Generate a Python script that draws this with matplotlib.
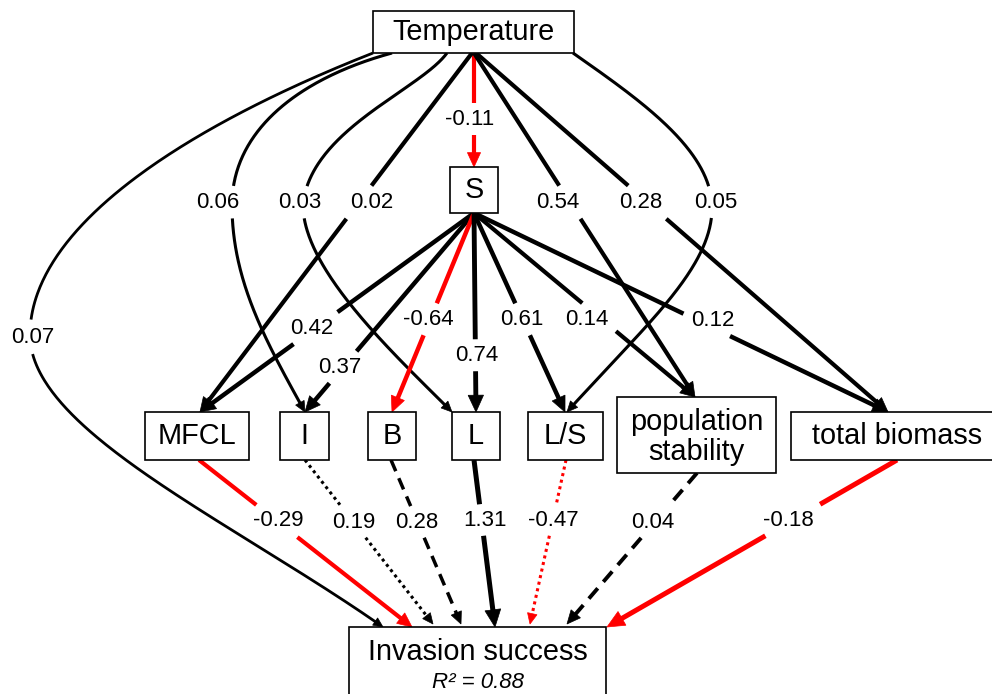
import numpy as np
import matplotlib
matplotlib.use("Agg")
import matplotlib.pyplot as plt
from matplotlib.patches import Rectangle, Polygon

plt.rcParams['font.family'] = ['Liberation Sans', 'DejaVu Sans']

# --- coeficientes del modelo de rutas ---
temp_targets = ["S", "MFCL", "I", "L", "L/S", "population stability", "total biomass", "Invasion success"]
temp_coefs = [-0.11, 0.02, 0.06, 0.03, 0.05, 0.54, 0.28, 0.07]

s_targets = ["MFCL", "I", "B", "L", "L/S", "population stability", "total biomass"]
s_coefs = [0.42, 0.37, -0.64, 0.74, 0.61, 0.14, 0.12]

inv_sources = ["MFCL", "I", "B", "L", "L/S", "population stability", "total biomass"]
inv_coefs = [-0.29, 0.19, 0.28, 1.31, -0.47, 0.04, -0.18]
inv_styles = ["-", ":", "--", "-", ":", "--", "-"]

r_squared = 0.88

# --- layout (pixel coordinates, y hacia abajo) ---
W, H = 992, 694
nodes = {
    "Temperature": (473.5, 32, 201, 42),
    "S": (474, 190, 48, 46),
    "MFCL": (197, 436, 104, 48),
    "I": (304.5, 436, 49, 48),
    "B": (392, 436, 48, 48),
    "L": (476, 436, 48, 48),
    "L/S": (565.5, 436, 75, 48),
    "population stability": (696.5, 435, 159, 76),
    "total biomass": (897, 436, 212, 48),
    "Invasion success": (477.5, 665, 257, 76),
}

temp_start_x = [474, 472, 392, 447, 573, 474, 476, 373]
temp_end_x = [474, 200, 305, 452, 567, 695, 888, 383]
temp_labels = [(470, 119), (372, 202), (218, 202), (300, 202), (716, 202), (558, 202), (641, 202), (33, 337)]
temp_lw = [3.0, 3.0, 2.2, 2.2, 2.2, 3.0, 3.0, 2.0]
# curvas: c1, c2, punto medio, c1b, c2b
temp_curves = {
    "Invasion success": [(190, 125), (30, 225), (30, 335), (30, 430), (230, 520)],
    "I": [(300, 78), (232, 130), (232, 205), (232, 280), (265, 340)],
    "L": [(420, 90), (310, 130), (303, 205), (303, 270), (395, 355)],
    "L/S": [(640, 100), (712, 150), (712, 208), (712, 270), (640, 330)],
}

s_end_x = [200, 305, 392, 476, 565, 695, 888]
s_labels = [(312, 328), (340, 367), (428, 319), (477, 355), (522, 319), (587, 319), (713, 320)]
s_lw = [3.2, 3.2, 3.2, 3.5, 3.2, 3.0, 3.2]

inv_start_x = [199, 305, 391, 474, 566, 697, 897]
inv_end_x = [412, 433, 461, 495, 530, 567, 607]
inv_labels = [(278, 521), (354, 522), (417, 522), (485, 520), (553, 520), (653, 522), (788, 520)]
inv_lw = [3.0, 2.2, 2.5, 3.6, 2.2, 2.8, 3.6]

dash_map = {"-": "-", "--": (0, (3.5, 2.2)), ":": (0, (1.0, 1.2))}


def top(name):
    cx, cy, w, h = nodes[name]
    return cy - h / 2


def bottom(name):
    cx, cy, w, h = nodes[name]
    return cy + h / 2


def bezier(p0, p1, p2, p3, n=150):
    p0, p1, p2, p3 = map(np.asarray, (p0, p1, p2, p3))
    t = np.linspace(0, 1, n)[:, None]
    return (1 - t) ** 3 * p0 + 3 * (1 - t) ** 2 * t * p1 + 3 * (1 - t) * t ** 2 * p2 + t ** 3 * p3


def straight(p0, p3, n=250):
    return np.column_stack([np.linspace(p0[0], p3[0], n), np.linspace(p0[1], p3[1], n)])


def coef_label(ax, xy, c):
    """Escribe el coeficiente y devuelve el rectangulo (en px) que corta la linea."""
    t = ax.text(xy[0], xy[1], f"{c:.2f}", fontsize=16, ha='center', va='center', zorder=3)
    bb = t.get_window_extent(renderer)
    return bb.x0 - 7, bb.x1 + 7, H - bb.y1 - 5, H - bb.y0 + 5


def draw_arrow(ax, pts, color, ls, lw, gap):
    """Linea (cortada bajo la etiqueta) + punta triangular rellena."""
    tip = pts[-1]
    hl = 4.8 * lw
    hw = 4.4 * lw
    d = np.hypot(*(pts - tip).T)
    back = pts[d >= hl]
    ref = back[-1] if len(back) else pts[0]
    u = (tip - ref) / np.hypot(*(tip - ref))
    base = tip - u * hl
    line = np.vstack([back, base + u * 2]).astype(float)
    x0, x1, y0, y1 = gap
    inside = (line[:, 0] > x0) & (line[:, 0] < x1) & (line[:, 1] > y0) & (line[:, 1] < y1)
    line[inside] = np.nan
    ax.plot(line[:, 0], line[:, 1], color=color, lw=lw, ls=dash_map[ls],
            solid_capstyle='butt', dash_capstyle='butt', zorder=1)
    n = np.array([-u[1], u[0]])
    head = [tip, base + n * hw / 2, base - n * hw / 2]
    ax.add_patch(Polygon(head, closed=True, fc=color, ec=color, lw=0.5, zorder=2))


fig = plt.figure(figsize=(W / 100, H / 100), dpi=100)
ax = fig.add_axes([0, 0, 1, 1])
ax.set_xlim(0, W)
ax.set_ylim(H, 0)
ax.axis('off')
renderer = fig.canvas.get_renderer()

# Temperature -> ...
for i, tgt in enumerate(temp_targets):
    c = temp_coefs[i]
    color = 'red' if c < 0 else 'black'
    p0 = np.array([temp_start_x[i], bottom("Temperature")])
    p3 = np.array([temp_end_x[i], top(tgt)])
    if tgt in temp_curves:
        c1, c2, m, c1b, c2b = temp_curves[tgt]
        pts = np.vstack([bezier(p0, c1, c2, m), bezier(m, c1b, c2b, p3)[1:]])
    else:
        pts = straight(p0, p3)
    gap = coef_label(ax, temp_labels[i], c)
    draw_arrow(ax, pts, color, "-", temp_lw[i], gap)

# S -> ...
for i, tgt in enumerate(s_targets):
    c = s_coefs[i]
    color = 'red' if c < 0 else 'black'
    p0 = np.array([474, bottom("S")])
    p3 = np.array([s_end_x[i], top(tgt)])
    gap = coef_label(ax, s_labels[i], c)
    draw_arrow(ax, straight(p0, p3), color, "-", s_lw[i], gap)

# ... -> Invasion success
for i, src in enumerate(inv_sources):
    c = inv_coefs[i]
    color = 'red' if c < 0 else 'black'
    p0 = np.array([inv_start_x[i], bottom(src)])
    p3 = np.array([inv_end_x[i], top("Invasion success") - (0 if inv_styles[i] == "-" else 3)])
    gap = coef_label(ax, inv_labels[i], c)
    draw_arrow(ax, straight(p0, p3), color, inv_styles[i], inv_lw[i], gap)

# cajas de variables
for name, (cx, cy, w, h) in nodes.items():
    ax.add_patch(Rectangle((cx - w / 2, cy - h / 2), w, h, fc='white', ec='black', lw=1.2, zorder=5))
    if name == "Invasion success":
        ax.text(cx, 652, name, fontsize=20.8, ha='center', va='center', zorder=6)
        ax.text(cx, 682, f"R\u00b2 = {r_squared:.2f}", fontsize=16, style='italic',
                ha='center', va='center', zorder=6)
    elif name == "population stability":
        ax.text(cx, cy + 2, "population\nstability", fontsize=20.8, ha='center', va='center',
                linespacing=1.12, zorder=6)
    else:
        ax.text(cx, cy, name, fontsize=20.8, ha='center', va='center', zorder=6)

fig.savefig("out.png", dpi=100)
